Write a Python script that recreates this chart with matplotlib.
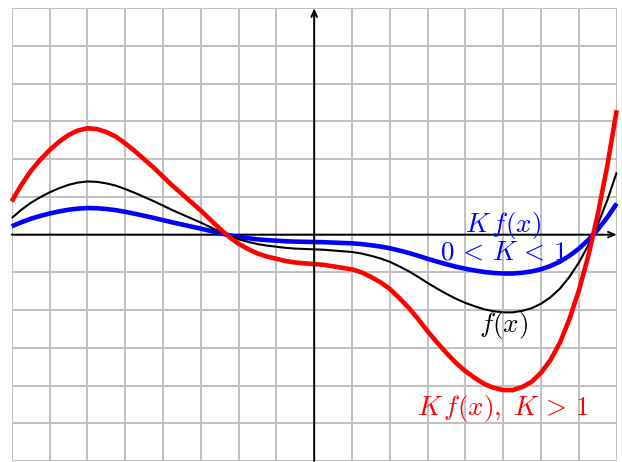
import matplotlib
matplotlib.use('Agg')
import numpy as np
import matplotlib.pyplot as plt

plt.rcParams['mathtext.fontset'] = 'cm'

# Valores (paso 0.25)
x = np.arange(-8, 8.01, 0.25)
f = [0.44, 0.655, 0.84, 0.99, 1.12, 1.23, 1.32, 1.38, 1.41, 1.40, 1.36, 1.30,
     1.21, 1.11, 1.00, 0.89, 0.77, 0.65, 0.54, 0.43, 0.32, 0.20, 0.08, -0.03,
     -0.12, -0.19, -0.25, -0.29, -0.32, -0.35, -0.37, -0.38, -0.39, -0.40, -0.42, -0.44,
     -0.46, -0.50, -0.56, -0.63, -0.72, -0.84, -0.97, -1.12, -1.28, -1.43, -1.57, -1.70,
     -1.81, -1.90, -1.98, -2.03, -2.06, -2.06, -2.02, -1.95, -1.83, -1.66, -1.43, -1.12,
     -0.74, -0.28, 0.27, 0.91, 1.65]
k_mayor = 2.0
k_menor = 0.5

f = np.array(f)

# Crear la figura y los ejes
fig = plt.figure(figsize=(6.22, 4.62), dpi=100)
ax = fig.add_axes([11.7 / 622, 1 / 462, 605 / 622, 452.7 / 462])
ax.set_xlim(-8, 8)
ax.set_ylim(-6, 6)

# Cuadricula
ax.set_xticks(range(-8, 9))
ax.set_yticks(range(-6, 7))
ax.grid(True, color='#c0c0c0', linewidth=1.4)
ax.set_axisbelow(True)
ax.tick_params(length=0, labelbottom=False, labelleft=False)
for s in ax.spines.values():
    s.set_visible(False)

# Eje x (debajo de las curvas)
ax.annotate('', xy=(8, 0), xytext=(-8, 0), zorder=1.5, annotation_clip=False,
            arrowprops=dict(arrowstyle='->,head_length=0.45,head_width=0.2', color='black',
                            lw=1.4, shrinkA=0, shrinkB=0))

# Curvas
ax.plot(x, k_menor * f, color='blue', lw=3.3, solid_capstyle='butt', zorder=2, clip_on=False)
ax.plot(x, f, color='black', lw=1.5, solid_capstyle='butt', zorder=3, clip_on=False)
ax.plot(x, k_mayor * f, color='red', lw=3.3, solid_capstyle='butt', zorder=4, clip_on=False)

# Eje y (encima)
ax.annotate('', xy=(0, 6), xytext=(0, -6), zorder=5, annotation_clip=False,
            arrowprops=dict(arrowstyle='->,head_length=0.45,head_width=0.2', color='black',
                            lw=1.4, shrinkA=0, shrinkB=0))

# Etiquetas
ax.text(5, 0.25, r'$K\,f(x)$', color='blue', fontsize=19.5, ha='center', va='center', zorder=6)
ax.text(5, -0.46, r'$0\,<\,K\,<\,1$', color='blue', fontsize=19.5, ha='center', va='center', zorder=6)
ax.text(5, -2.42, r'$f(x)$', color='black', fontsize=19.5, ha='center', va='center', zorder=6)
ax.text(5, -4.62, r'$K\,f(x),\ K\,>\,1$', color='red', fontsize=19.5, ha='center', va='center', zorder=6)

fig.savefig('out.png', dpi=100)
